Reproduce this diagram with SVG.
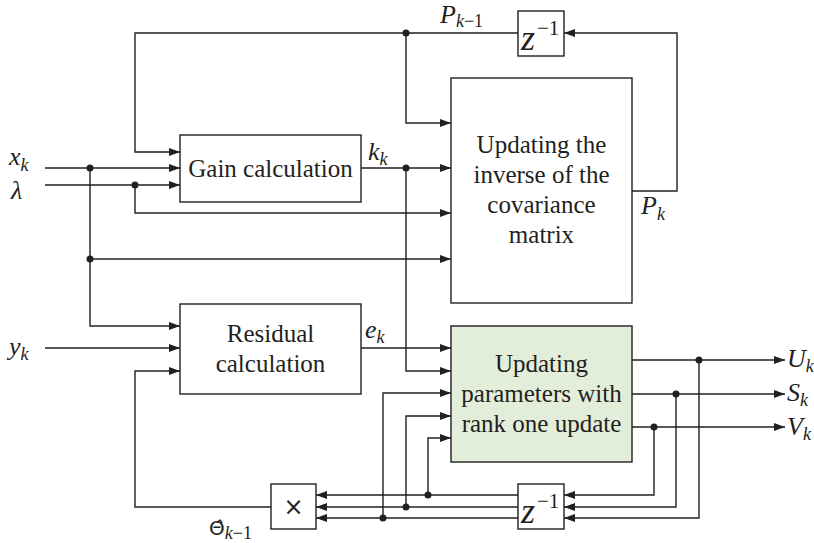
<svg xmlns="http://www.w3.org/2000/svg" width="814" height="543" viewBox="0 0 814 543">
<defs>
<marker id="ah" markerUnits="userSpaceOnUse" markerWidth="11" markerHeight="8" refX="11" refY="4" orient="auto">
<path d="M0,0 L11,4 L0,8 z" fill="#231f20"/>
</marker>
<style>
.box{fill:#fff;stroke:#231f20;stroke-width:1.4}
.green{fill:#e2edda;stroke:#231f20;stroke-width:1.4}
.c{fill:none;stroke:#231f20;stroke-width:1.4}
.a{marker-end:url(#ah)}
.dot{fill:#231f20}
.t{font-family:"Liberation Serif",serif;font-size:25px;fill:#231f20;text-anchor:middle}
.m{font-family:"Liberation Serif",serif;font-style:italic;font-size:26px;fill:#231f20}
.s{font-size:18px}
.u{font-style:normal}
</style>
</defs>
<rect width="814" height="543" fill="#fff"/>
<g id="connectors">
<polyline class="c a" points="518,33 135,33 135,152 180,152"/>
<polyline class="c a" points="406,33 406,123 451,123"/>
<polyline class="c a" points="632,191 677,191 677,33 564,33"/>
<polyline class="c a" points="45,168 180,168"/>
<polyline class="c a" points="90,168 90,326 180,326"/>
<polyline class="c a" points="90,259 451,259"/>
<polyline class="c a" points="45,185 180,185"/>
<polyline class="c a" points="135,185 135,213 451,213"/>
<polyline class="c a" points="361,168 451,168"/>
<polyline class="c a" points="406,168 406,371 451,371"/>
<polyline class="c a" points="45,348 180,348"/>
<polyline class="c a" points="361,348 451,348"/>
<polyline class="c a" points="271,507 135,507 135,371 180,371"/>
<polyline class="c a" points="632,360 785,360"/>
<polyline class="c a" points="699,360 699,518 564,518"/>
<polyline class="c a" points="632,394 785,394"/>
<polyline class="c a" points="676,394 676,507 564,507"/>
<polyline class="c a" points="632,427 785,427"/>
<polyline class="c a" points="654,427 654,495 564,495"/>
<polyline class="c a" points="518,495 316,495"/>
<polyline class="c a" points="518,507 316,507"/>
<polyline class="c a" points="518,518 316,518"/>
<polyline class="c a" points="428,495 428,438 451,438"/>
<polyline class="c a" points="406,507 406,416 451,416"/>
<polyline class="c a" points="383,518 383,393 451,393"/>
<g class="dot">
<circle cx="406" cy="33" r="3.5"/>
<circle cx="90" cy="168" r="3.5"/>
<circle cx="135" cy="185" r="3.5"/>
<circle cx="90" cy="259" r="3.5"/>
<circle cx="406" cy="168" r="3.5"/>
<circle cx="699" cy="360" r="3.5"/>
<circle cx="676" cy="394" r="3.5"/>
<circle cx="654" cy="427" r="3.5"/>
<circle cx="428" cy="495" r="3.5"/>
<circle cx="406" cy="507" r="3.5"/>
<circle cx="383" cy="518" r="3.5"/>
</g>
</g>
<g id="gain">
<rect class="box" x="180" y="135" width="181" height="67"/>
<text class="t" x="270.5" y="177">Gain calculation</text>
</g>
<g id="covariance">
<rect class="box" x="451" y="78" width="181" height="225"/>
<text class="t" x="541.5" y="153">Updating the</text>
<text class="t" x="541.5" y="183">inverse of the</text>
<text class="t" x="541.5" y="213">covariance</text>
<text class="t" x="541.5" y="243">matrix</text>
</g>
<g id="residual">
<rect class="box" x="180" y="304" width="181" height="90"/>
<text class="t" x="270.5" y="342">Residual</text>
<text class="t" x="270.5" y="372">calculation</text>
</g>
<g id="rankone">
<rect class="green" x="451" y="326" width="181" height="136"/>
<text class="t" x="541.5" y="372">Updating</text>
<text class="t" x="541.5" y="402">parameters with</text>
<text class="t" x="541.5" y="432">rank one update</text>
</g>
<g id="delayP">
<rect class="box" x="518" y="11" width="46" height="45"/>
<text class="m" x="521" y="50" style="font-size:36px">z</text>
<text x="537" y="35" style="font-family:'Liberation Serif',serif;font-size:21px;fill:#231f20">−1</text>
</g>
<g id="delayUSV">
<rect class="box" x="518" y="484" width="46" height="45"/>
<text class="m" x="521" y="523" style="font-size:36px">z</text>
<text x="537" y="508" style="font-family:'Liberation Serif',serif;font-size:21px;fill:#231f20">−1</text>
</g>
<g id="multiply">
<rect class="box" x="271" y="484" width="45" height="45"/>
<text class="t" x="293.5" y="515" style="font-family:'DejaVu Sans',sans-serif;font-size:24px">×</text>
</g>
<g id="labels">
<text class="m" x="9" y="165">x<tspan class="s" dy="6">k</tspan></text>
<text class="m" x="11" y="199">λ</text>
<text class="m" x="9" y="355">y<tspan class="s" dy="5">k</tspan></text>
<text class="m" x="368" y="160">k<tspan class="s" dy="5">k</tspan></text>
<text class="m" x="365" y="338">e<tspan class="s" dy="5">k</tspan></text>
<text class="m" x="440" y="23">P<tspan class="s" dy="4">k<tspan class="u">−1</tspan></tspan></text>
<text class="m" x="641" y="214">P<tspan class="s" dy="6">k</tspan></text>
<text class="m" x="787" y="367">U<tspan class="s" dy="5">k</tspan></text>
<text class="m" x="787" y="401">S<tspan class="s" dy="5">k</tspan></text>
<text class="m" x="787" y="435">V<tspan class="s" dy="5">k</tspan></text>
<text x="209" y="535" style="font-family:'DejaVu Sans',sans-serif;font-size:20px;fill:#231f20">Θ̂<tspan style="font-family:'Liberation Serif',serif;font-style:italic;font-size:18px" dy="4">k<tspan style="font-style:normal">−1</tspan></tspan></text>
</g>
</svg>
